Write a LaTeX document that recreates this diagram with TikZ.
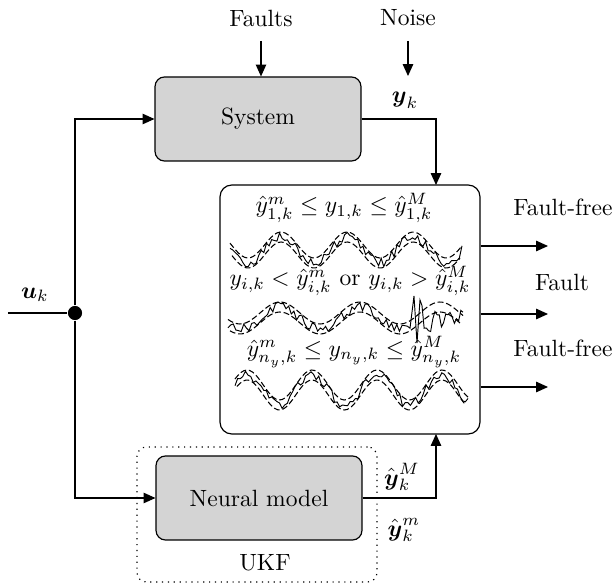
\documentclass[tikz,border=0pt]{standalone}
\usepackage{amsmath}
\usetikzlibrary{arrows.meta, positioning}

\begin{document}
\begin{tikzpicture}[x=0.425pt, y=-0.425pt, >={Triangle[length=5pt,width=4.4pt]},
		line width=0.5pt,
		block/.style={draw, rounded corners=4pt, fill=black!17, minimum width=87.5pt, minimum height=35.7pt},
		label_text/.style={inner sep=1pt},
		wave_bound/.style={dash pattern=on 2.5pt off 1.2pt, line width=0.45pt},
		wave_signal/.style={line width=0.4pt}]

		\useasboundingbox (0,0) rectangle (614,586);
		\pgfmathsetseed{11}

		%% Nodes
		\begin{scope}
			\node (system) at (258,119) [block] {System};
			\node (ukf) at (257,514.5) [draw, dotted, rounded corners=4pt, minimum width=102pt, minimum height=57.4pt] {};
			\node (neural_model) at (259,498) [block] {Neural model};
			\node (ukf_title) at (265,563) [label_text] {UKF};
			\node (checker) at (350,309.5) [draw, rounded corners=5pt, minimum width=110.5pt, minimum height=105.8pt] {};
		\end{scope}

		% Inputs
		\begin{scope}
			\node (faults) at (261,18) [label_text] {Faults};
			\node (noise) at (408,18) [label_text] {Noise};
			\coordinate (noise_end) at (408,76);
			\node (uk_label) at (35,295) [label_text] {$\boldsymbol{u}_k$};
			\coordinate (uk_start) at (8,313);
			\node (branch) at (75,313) [circle, fill, inner sep=0pt, minimum size=6pt] {};
		\end{scope}

		% Signals
		\begin{scope}
			\node (yk_label) at (405,100) [label_text] {$\boldsymbol{y}_k$};
			\coordinate (yk_in) at (436,185);
			\node (yM_label) at (402,477) [label_text] {$\hat{\boldsymbol{y}}_k^M$};
			\node (ym_label) at (404,530) [label_text] {$\hat{\boldsymbol{y}}_k^m$};
			\coordinate (yhat_in) at (436,434);
		\end{scope}

		% Checks
		\begin{scope}
			\node (check1) at (344,208) [label_text] {$\hat{y}^m_{1,k} \leq y_{1,k} \leq \hat{y}^M_{1,k}$};
			\node (check2) at (350,281) [label_text] {$y_{i,k} < \hat{y}^m_{i,k}$ or $y_{i,k} > \hat{y}^M_{i,k}$};
			\node (check3) at (354,352) [label_text] {$\hat{y}^m_{n_y,k} \leq y_{n_y,k} \leq \hat{y}^M_{n_y,k}$};
		\end{scope}

		% Outputs
		\begin{scope}
			\coordinate (out1) at (548,246);
			\coordinate (out2) at (548,314);
			\coordinate (out3) at (548,387);
			\node (out1_title) at (563,207) [label_text] {Fault-free};
			\node (out2_title) at (562,282) [label_text] {Fault};
			\node (out3_title) at (563,348) [label_text] {Fault-free};
		\end{scope}

		% Waves
		\draw[wave_bound] plot[domain=230:462, samples=80, smooth] (\x, {245+13*cos(5.45*(\x-248))});
		\draw[wave_bound] plot[domain=232:460, samples=80, smooth] (\x, {255+13*cos(5.45*(\x-248))});
		\draw[wave_signal] plot[domain=230:462, samples=90] (\x, {250+13*cos(5.45*(\x-248))+5*rand});

		\draw[wave_bound] plot[domain=228:463, samples=80, smooth] (\x, {313+11*cos(4.5*(\x-240))});
		\draw[wave_bound] plot[domain=230:461, samples=80, smooth] (\x, {323+11*cos(4.5*(\x-240))});
		\draw[wave_signal] plot[domain=228:410, samples=70] (\x, {318+11*cos(4.5*(\x-240))+5*rand})
			-- (414,296) -- (417,343) -- (420,300)
			-- plot[domain=422:463, samples=20] (\x, {318+(18-0.25*(\x-422))*rand});

		\draw[wave_bound] plot[domain=235:468, samples=80, smooth] (\x, {385-15*cos(5.54*(\x-312))});
		\draw[wave_bound] plot[domain=237:466, samples=80, smooth] (\x, {395-15*cos(5.54*(\x-312))});
		\draw[wave_signal] plot[domain=235:468, samples=90] (\x, {390-15*cos(5.54*(\x-312))+5*rand});

		%% Edges
		\draw[->, shorten <=5pt] (faults) -- (faults |- system.north);
		\draw[->, shorten <=5pt] (noise) -- (noise_end);
		\draw[->] (system.east) -| (yk_in);
		\draw[->] (neural_model.east) -| (yhat_in);

		\draw (uk_start) -- (branch);
		\draw[->] (branch) |- (system.west);
		\draw[->] (branch) |- (neural_model.west);

		\draw[->] (checker.east |- out1) -- (out1);
		\draw[->] (checker.east |- out2) -- (out2);
		\draw[->] (checker.east |- out3) -- (out3);
	\end{tikzpicture}
\end{document}
